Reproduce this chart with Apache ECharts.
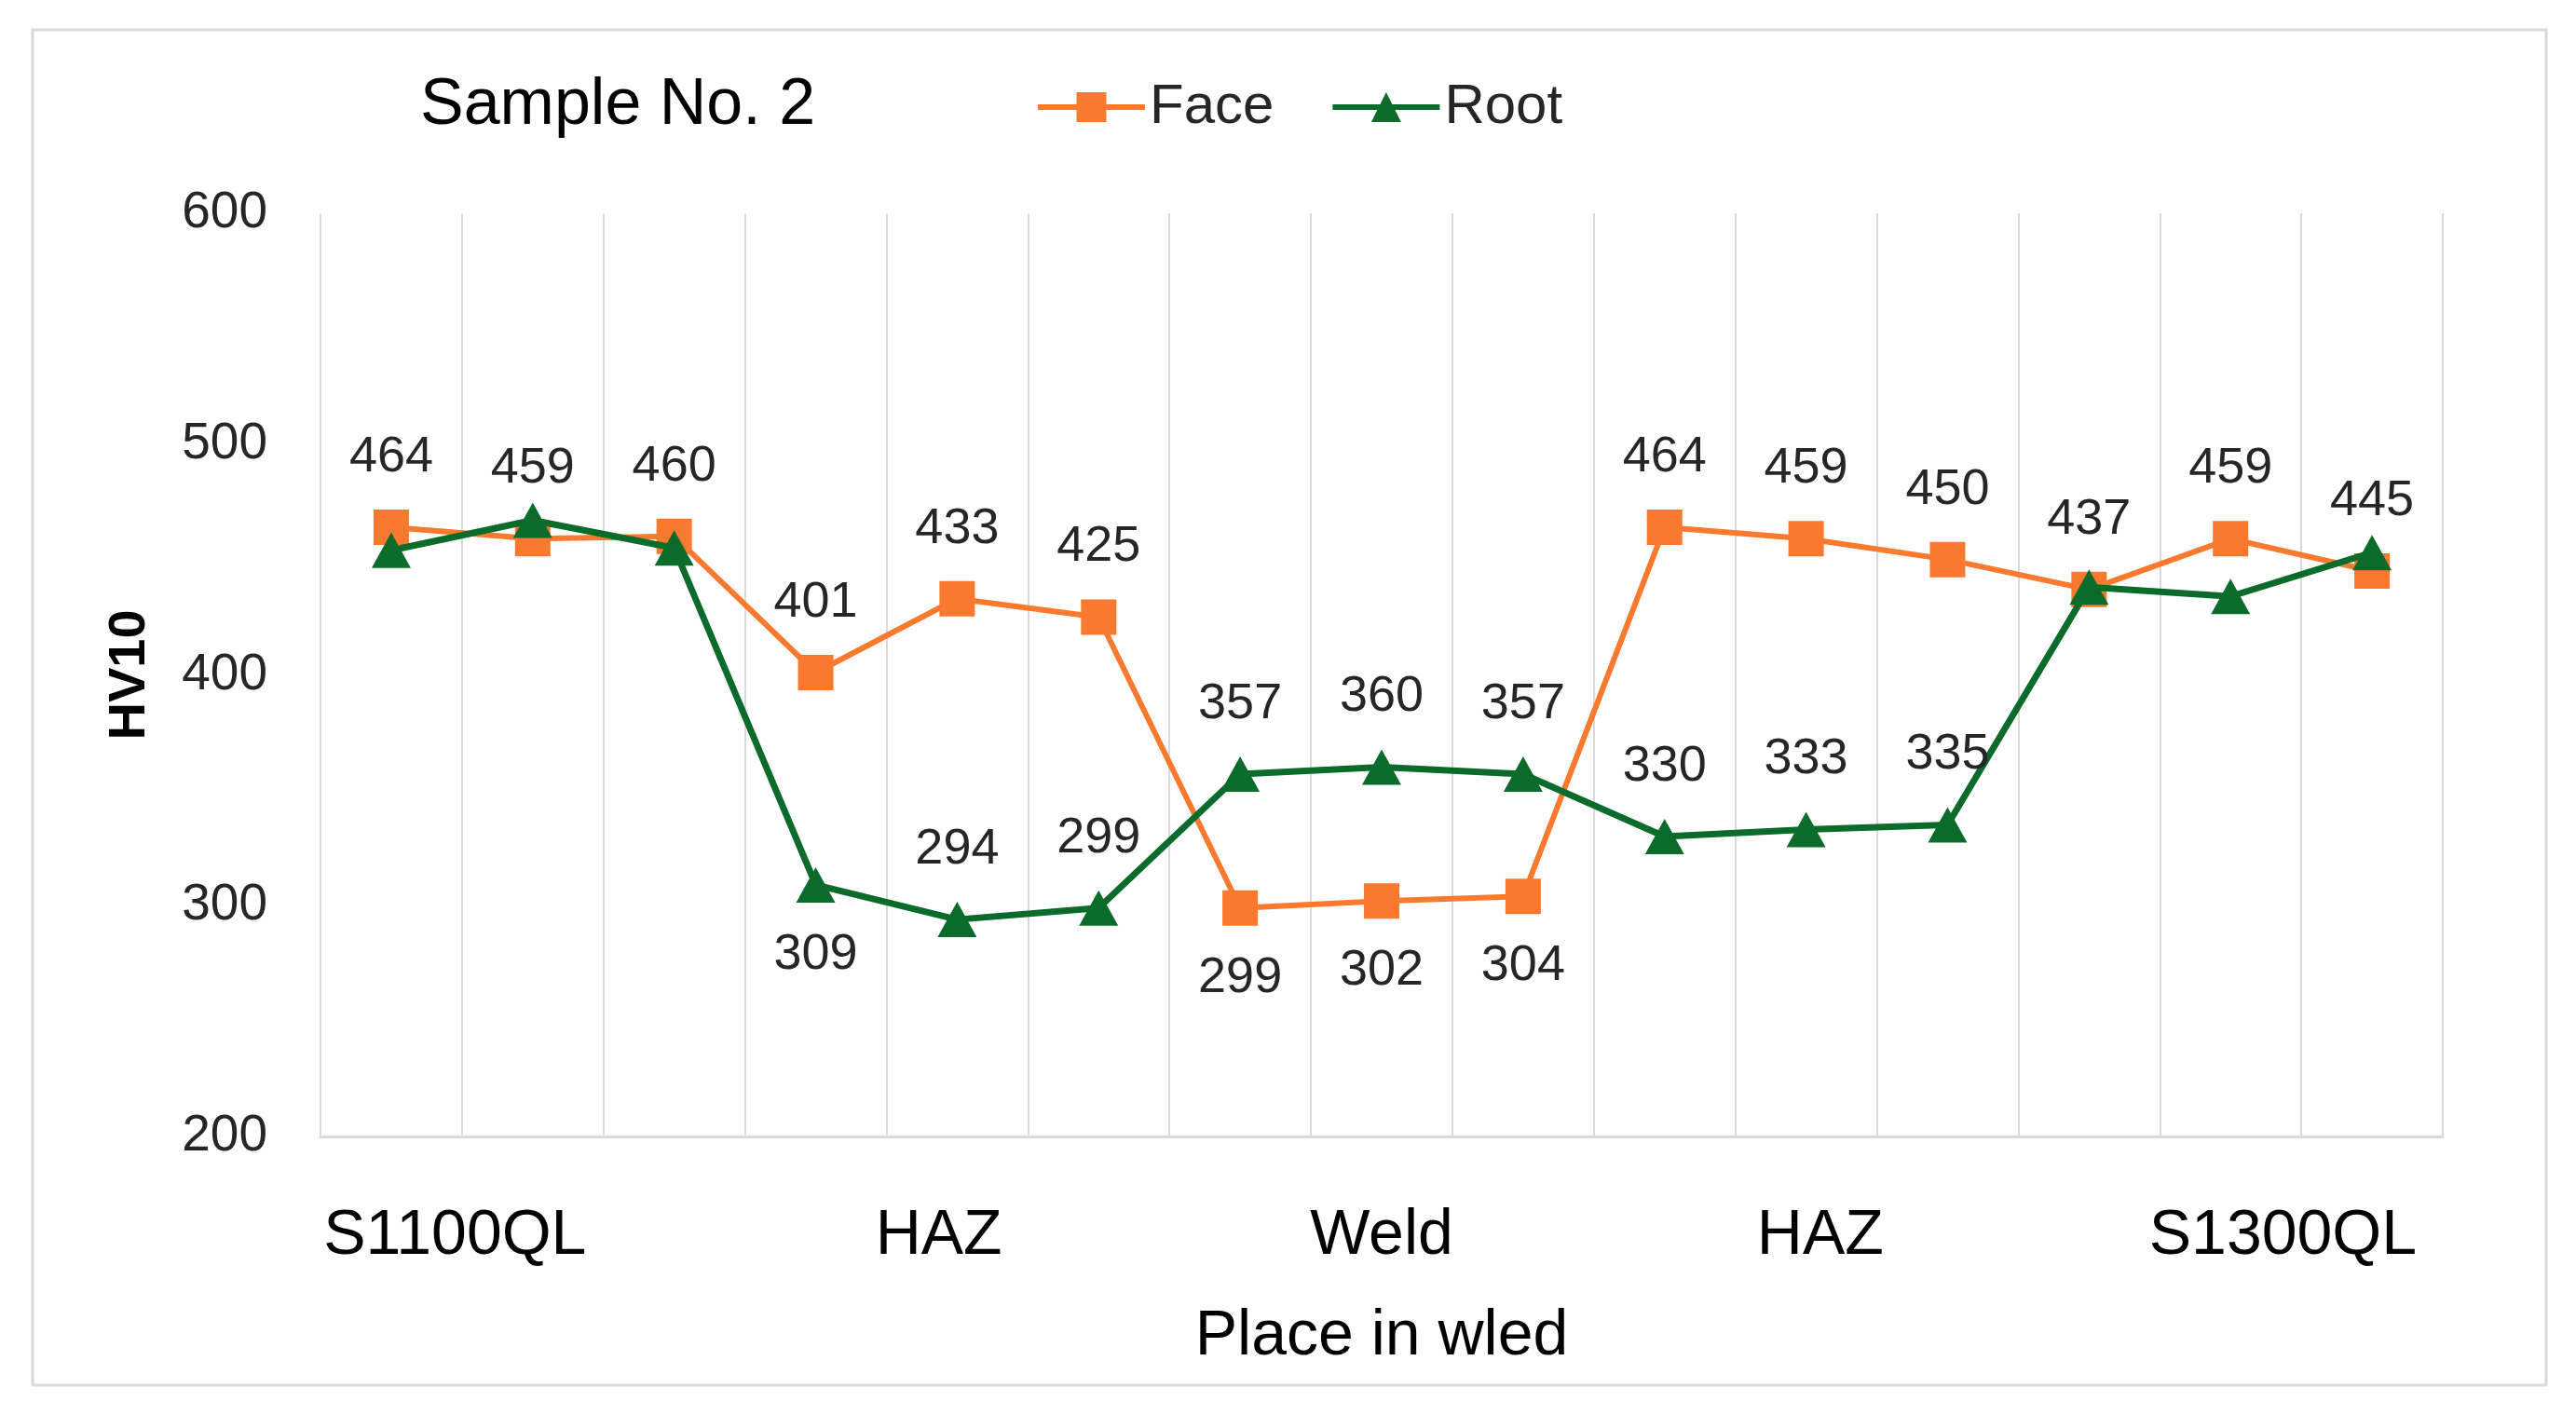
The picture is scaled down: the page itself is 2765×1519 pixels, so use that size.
<!DOCTYPE html>
<html>
<head>
<meta charset="utf-8">
<title>Sample No. 2</title>
<script src="https://cdn.jsdelivr.net/npm/echarts@6/dist/echarts.min.js"></script>
<style>
    html, body { margin: 0; padding: 0; background: #fff; }
    #main { width: 2765px; height: 1519px; }
</style>
</head>
<body>
<div id="main"></div>
<script>
// measuring points along the weld
var points = ['1', '2', '3', '4', '5', '6', '7', '8', '9', '10', '11', '12', '13', '14', '15'];
var faceValues = [464, 459, 460, 401, 433, 425, 299, 302, 304, 464, 459, 450, 437, 459, 445];
var rootValues = [454, 467, 455, 309, 294, 299, 357, 360, 357, 330, 333, 335, 438, 434, 453];
var zoneNames = ['S1100QL', 'HAZ', 'Weld', 'HAZ', 'S1300QL'];
var yTicks = [200, 300, 400, 500, 600];

(function () {
    var chart = echarts.init(document.getElementById('main'));
    var font = '"Liberation Sans", Arial, sans-serif';
    var orange = '#F97A2E';
    var green = '#0B6B2A';

    // where the zone names sit, in point units from the left edge of the plot
    var zoneAt = [0.95, 4.37, 7.5, 10.6, 13.87];

    function faceLabel(v, i) {
        var below = i >= 6 && i <= 8;
        return {
            value: v,
            label: {position: below ? 'bottom' : 'top'}
        };
    }

    function rootLabel(v, i) {
        var hidden = i <= 2 || i >= 12;
        return {
            value: v,
            label: {show: !hidden, position: i === 3 ? 'bottom' : 'top'}
        };
    }

    var labelStyle = {
        show: true,
        distance: 28,
        fontFamily: font,
        fontSize: 54,
        lineHeight: 56,
        color: '#262626'
    };

    var option = {
        backgroundColor: '#fff',
        animation: false,
        title: {
            text: 'Sample No. 2',
            left: 446,
            top: 74,
            textStyle: {fontFamily: font, fontSize: 70, fontWeight: 'normal', color: '#000'}
        },
        legend: {
            data: ['Face', 'Root'],
            left: 1106,
            top: 80,
            itemWidth: 115,
            itemHeight: 40,
            itemGap: 60,
            lineStyle: {width: 6},
            textStyle: {fontFamily: font, fontSize: 60, color: '#262626'}
        },
        graphic: [{
            type: 'rect',
            shape: {x: 35, y: 32, width: 2698, height: 1455},
            style: {fill: 'none', stroke: '#d9d9d9', lineWidth: 3},
            silent: true
        }],
        grid: {
            left: 344,
            right: 143,
            top: 229,
            bottom: 299,
            outerBoundsMode: 'none'
        },
        xAxis: [{
            type: 'category',
            data: points,
            position: 'bottom',
            boundaryGap: true,
            name: 'Place in wled',
            nameLocation: 'middle',
            nameGap: 181,
            nameTextStyle: {fontFamily: font, fontSize: 68, color: '#000'},
            axisLine: {show: true, lineStyle: {color: '#d9d9d9', width: 3}},
            axisTick: {show: false},
            axisLabel: {show: false},
            splitLine: {show: true, lineStyle: {color: '#d9d9d9', width: 2}}
        }, {
            type: 'value',
            min: 0,
            max: 15,
            position: 'bottom',
            axisLine: {show: false},
            axisTick: {show: false},
            splitLine: {show: false},
            axisLabel: {
                customValues: zoneAt,
                margin: 73,
                fontFamily: font,
                fontSize: 68,
                color: '#000',
                formatter: function (v) {
                    var k = zoneAt.indexOf(v);
                    return k >= 0 ? zoneNames[k] : '';
                }
            }
        }],
        yAxis: {
            type: 'value',
            min: yTicks[0],
            max: yTicks[yTicks.length - 1],
            interval: 100,
            name: 'HV10',
            nameLocation: 'middle',
            nameGap: 176,
            nameTextStyle: {fontFamily: font, fontSize: 56, fontWeight: 'bold', color: '#000'},
            axisLine: {show: false},
            axisTick: {show: false},
            splitLine: {show: false},
            axisLabel: {margin: 57, fontFamily: font, fontSize: 55, color: '#262626'}
        },
        series: [{
            name: 'Face',
            type: 'line',
            data: faceValues.map(faceLabel),
            symbol: 'rect',
            symbolSize: 38,
            color: orange,
            lineStyle: {color: orange, width: 6},
            itemStyle: {color: orange},
            label: labelStyle,
            z: 3
        }, {
            name: 'Root',
            type: 'line',
            data: rootValues.map(rootLabel),
            symbol: 'triangle',
            symbolSize: [42, 38],
            color: green,
            lineStyle: {color: green, width: 7},
            itemStyle: {color: green},
            label: labelStyle,
            z: 4
        }]
    };
    chart.setOption(option);
})();
</script>
</body>
</html>
